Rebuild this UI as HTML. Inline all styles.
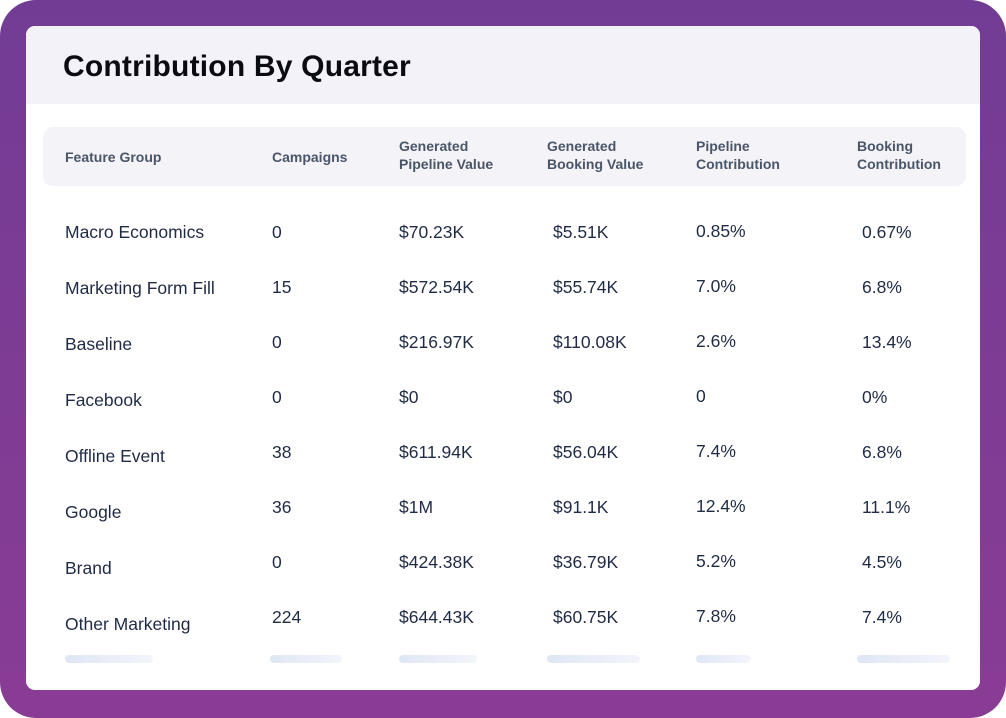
<!DOCTYPE html>
<html><head><meta charset="utf-8"><style>
html,body{margin:0;padding:0;width:1006px;height:718px;overflow:hidden;background:#fff;font-family:"Liberation Sans",sans-serif}
#frame{position:absolute;left:0;top:0;width:1006px;height:718px;border-radius:36px;background:linear-gradient(180deg,#723c95,#893c94)}
#card{position:absolute;left:26px;top:26px;width:954px;height:664px;background:#fff;border-radius:9px;overflow:hidden}
#hdr{position:absolute;left:0;top:0;width:954px;height:78px;background:#f4f2f9}
#title{position:absolute;left:37px;top:22px;font-size:30px;font-weight:bold;color:#0b0b12;line-height:38px;letter-spacing:0.2px}
#thead{position:absolute;left:17px;top:101px;width:923px;height:59px;background:#f4f3f8;border-radius:10px}
.th{position:absolute;font-size:14px;font-weight:bold;color:#4a5568;line-height:18px}
.td{position:absolute;font-size:17.5px;color:#1f2a44;line-height:22px;white-space:nowrap}
.sk{position:absolute;height:8px;border-radius:4px;background:linear-gradient(90deg,#dfe6f4,#f3f5fb)}
</style></head><body>
<div id="frame"></div>
<div id="card">
<div id="hdr"><div id="title">Contribution By Quarter</div></div>
<div id="thead"></div>
<div class="th" style="left:39px;top:122px">Feature Group</div>
<div class="th" style="left:246px;top:122px">Campaigns</div>
<div class="th" style="left:373px;top:111px">Generated<br>Pipeline Value</div>
<div class="th" style="left:521px;top:111px">Generated<br>Booking Value</div>
<div class="th" style="left:670px;top:111px">Pipeline<br>Contribution</div>
<div class="th" style="left:831px;top:111px">Booking<br>Contribution</div>
<div class="sk" style="left:39px;top:629px;width:88px"></div>
<div class="sk" style="left:244px;top:629px;width:72px"></div>
<div class="sk" style="left:373px;top:629px;width:78px"></div>
<div class="sk" style="left:521px;top:629px;width:93px"></div>
<div class="sk" style="left:670px;top:629px;width:55px"></div>
<div class="sk" style="left:831px;top:629px;width:93px"></div>
</div>
<script>
const groups=["Macro Economics","Marketing Form Fill","Baseline","Facebook","Offline Event","Google","Brand","Other Marketing"];
const campaigns=["0","15","0","0","38","36","0","224"];
const pipelineValue=["$70.23K","$572.54K","$216.97K","$0","$611.94K","$1M","$424.38K","$644.43K"];
const bookingValue=["$5.51K","$55.74K","$110.08K","$0","$56.04K","$91.1K","$36.79K","$60.75K"];
const pipelineContrib=["0.85%","7.0%","2.6%","0","7.4%","12.4%","5.2%","7.8%"];
const bookingContrib=["0.67%","6.8%","13.4%","0%","6.8%","11.1%","4.5%","7.4%"];
const card=document.getElementById('card');
function cell(txt,x,y,name){
  const d=document.createElement('div');
  d.className='td';d.textContent=txt;d.style.left=x+'px';d.style.top=y+'px';
  
  
  card.appendChild(d);
}
groups.forEach((g,i)=>{
  cell(g,39,195+56*i,'row-feature-group');
  cell(campaigns[i],246,195+55*i,'row-campaigns');
  cell(pipelineValue[i],373,195+55*i,'row-pipeline-value');
  cell(bookingValue[i],527,195+55*i,'row-booking-value');
  cell(pipelineContrib[i],670,194+55*i,'row-pipeline-contribution');
  cell(bookingContrib[i],836,195+55*i,'row-booking-contribution');
});
</script>
</body></html>
